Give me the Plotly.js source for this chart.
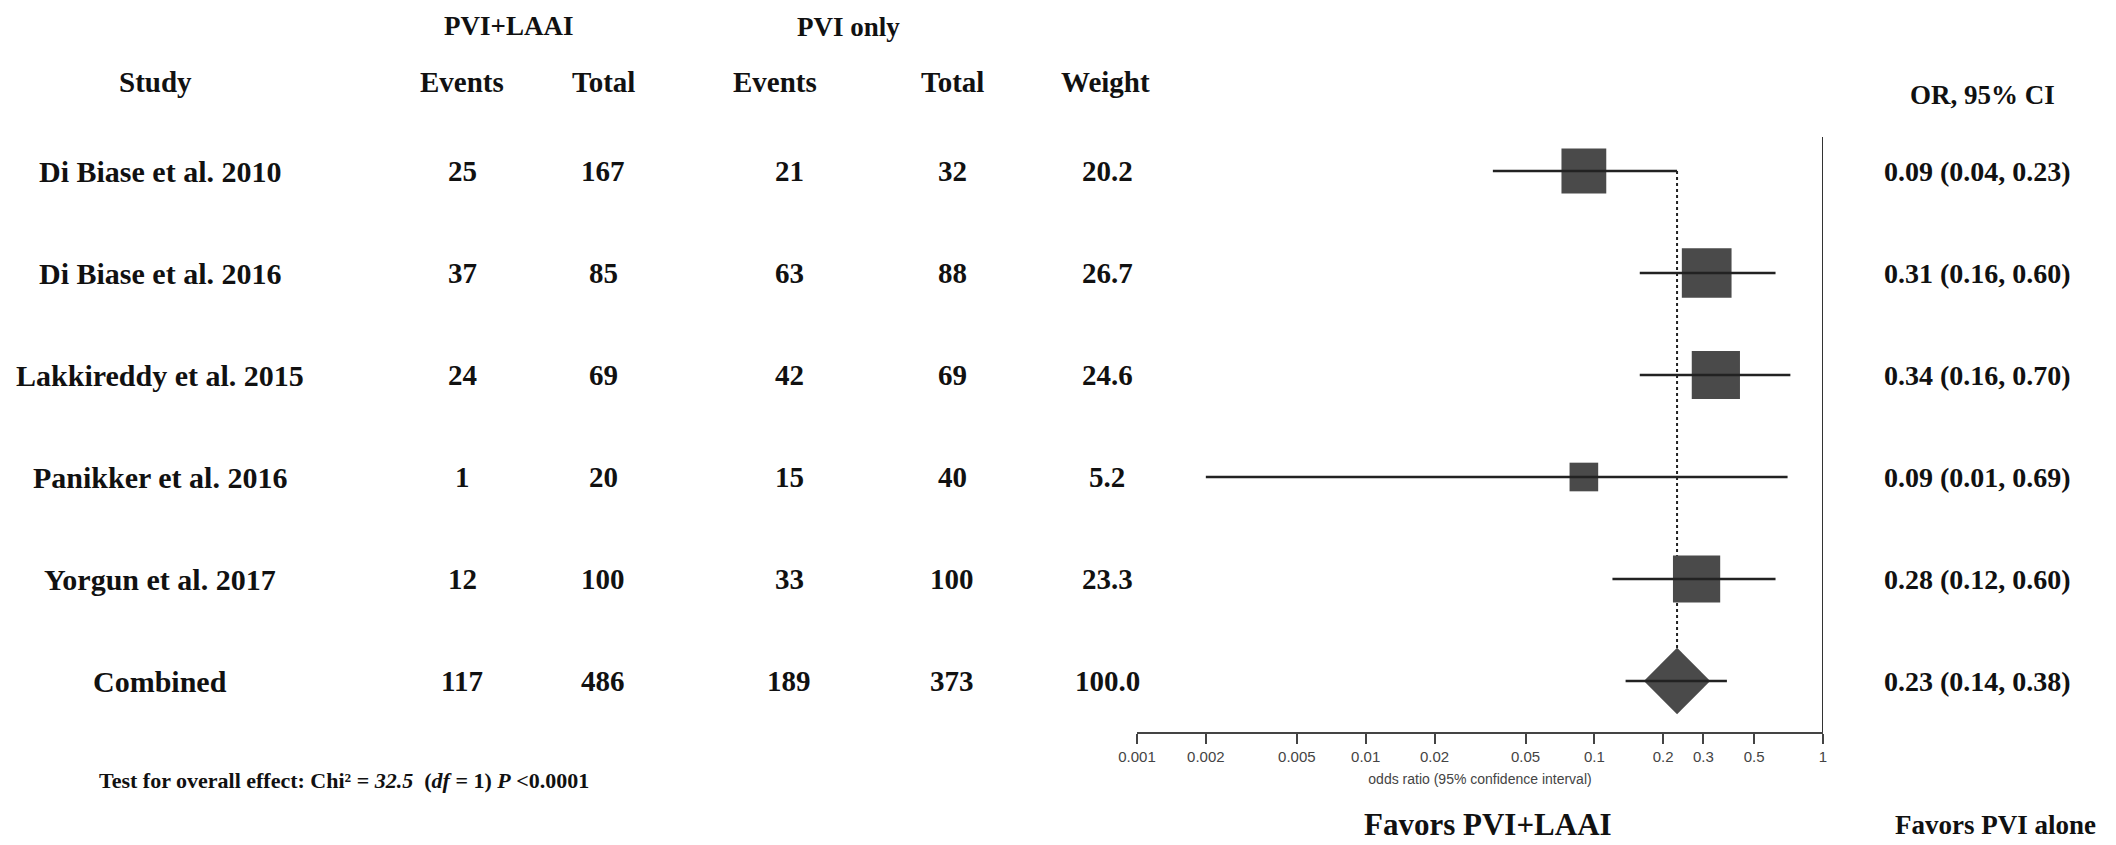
<!DOCTYPE html>
<html><head><meta charset="utf-8">
<script src="https://cdn.plot.ly/plotly-3.0.1.min.js"></script>
<style>html,body{margin:0;padding:0;background:#fff}</style>
</head><body><div id="chart" style="width:2116px;height:845px"></div>
<script>
// ---- data ----
const studies = ["Di Biase et al. 2010","Di Biase et al. 2016","Lakkireddy et al. 2015","Panikker et al. 2016","Yorgun et al. 2017","Combined"];
const laaiEvents = ["25","37","24","1","12","117"];
const laaiTotal  = ["167","85","69","20","100","486"];
const pviEvents  = ["21","63","42","15","33","189"];
const pviTotal   = ["32","88","69","40","100","373"];
const weights    = [20.2, 26.7, 24.6, 5.2, 23.3, 100.0];
const oddsRatio  = [0.09, 0.31, 0.34, 0.09, 0.28, 0.23];
const ciLower    = [0.036, 0.158, 0.158, 0.002, 0.12, 0.137];   // whisker ends as drawn
const ciUpper    = [0.23, 0.62, 0.72, 0.70, 0.62, 0.38];
const ciLabels   = ["0.09 (0.04, 0.23)","0.31 (0.16, 0.60)","0.34 (0.16, 0.70)","0.09 (0.01, 0.69)","0.28 (0.12, 0.60)","0.23 (0.14, 0.38)"];
const tickVals   = [0.001,0.002,0.005,0.01,0.02,0.05,0.1,0.2,0.3,0.5,1];
const tickLabels = ["0.001","0.002","0.005","0.01","0.02","0.05","0.1","0.2","0.3","0.5","1"];

// ---- layout geometry ----
const W = 2116, H = 845;
const L = 1137, R = 2116 - 1823, T = 120, B = 845 - 732;
const PW = W - L - R, PH = H - T - B;
const px = x => (x - L) / PW;          // pixel -> paper x
const py = y => (H - B - y) / PH;      // pixel -> paper y
const serif = "Liberation Serif, Times New Roman, serif";
const sans = "Liberation Sans, Arial, sans-serif";
const ink = "#111";
const markFill = "#4a4a4a";

const nS = studies.length - 1;
const rows = studies.map((_, i) => i);

const traces = [];
// dotted reference line at combined OR
traces.push({x:[oddsRatio[nS], oddsRatio[nS]], y:[0, nS], mode:"lines",
  line:{color:"#222", width:2, dash:"dot"}, hoverinfo:"skip", showlegend:false});
// study squares
traces.push({x:oddsRatio.slice(0,nS), y:rows.slice(0,nS), mode:"markers",
  marker:{symbol:"square", color:markFill, opacity:1, size:weights.slice(0,nS).map(w => 12 + 7.3*Math.sqrt(w)), line:{width:0}},
  hoverinfo:"skip", showlegend:false});
// combined diamond
traces.push({x:[oddsRatio[nS]], y:[nS], mode:"markers",
  marker:{symbol:"diamond", color:markFill, opacity:1, size:51, line:{width:0}}, hoverinfo:"skip", showlegend:false});
// whiskers
const wx = [], wy = [];
rows.forEach(i => { wx.push(ciLower[i], ciUpper[i], null); wy.push(i, i, null); });
traces.push({x:wx, y:wy, mode:"lines", line:{color:"#222", width:2.6}, hoverinfo:"skip", showlegend:false, connectgaps:false});

// ---- annotations ----
const ann = [];
function A(text, x, y, yref, size, extra, family) {
  ann.push(Object.assign({text:text, x:px(x), xref:"paper", y:y, yref:yref, showarrow:false,
    xanchor:"center", yanchor:"middle",
    font:{family:family || serif, size:size, color:ink, weight:700}}, extra || {}));
}
// group headers
A("PVI+LAAI", 508, py(26), "paper", 27);
A("PVI only", 848, py(27), "paper", 27);
// column headers
const hy = py(82);
A("Study", 155, hy, "paper", 29);
A("Events", 462, hy, "paper", 29);
A("Total", 603, hy, "paper", 29);
A("Events", 775, hy, "paper", 29);
A("Total", 952, hy, "paper", 29);
A("Weight", 1105, hy, "paper", 29);
A("OR, 95% CI", 1982, py(95), "paper", 27);
// rows
rows.forEach(i => {
  A(studies[i], 160, i, "y", 30);
  A(laaiEvents[i], 462, i, "y", 29);
  A(laaiTotal[i], 603, i, "y", 29);
  A(pviEvents[i], 789, i, "y", 29);
  A(pviTotal[i], 952, i, "y", 29);
  A(weights[i].toFixed(1), 1107, i, "y", 29);
  A(ciLabels[i], 1977, i, "y", 28);
});
A("Test for overall effect: Chi\u00b2 = <i>32.5</i>  (<i>df</i> = 1) <i>P</i> <0.0001", 344, py(780), "paper", 22);
A("Favors PVI+LAAI", 1488, py(825), "paper", 31);
A("Favors PVI alone", 1995, py(825), "paper", 27);

const layout = {
  width:W, height:H, autosize:false,
  margin:{l:L, r:R, t:T, b:B, pad:0},
  paper_bgcolor:"#fff", plot_bgcolor:"#fff",
  showlegend:false,
  xaxis:{type:"log", range:[-3,0], showline:true, linecolor:"#444", linewidth:2,
    ticks:"outside", ticklen:10, tickwidth:2, tickcolor:"#444",
    tickmode:"array", tickvals:tickVals, ticktext:tickLabels,
    tickfont:{family:sans, size:15, color:"#444"},
    showgrid:false, zeroline:false, fixedrange:true,
    title:{text:"odds ratio (95% confidence interval)", font:{family:sans, size:14, color:"#444"}, standoff:10}},
  yaxis:{visible:false, range:[nS+0.5, -0.5], fixedrange:true},
  shapes:[{type:"line", xref:"x", x0:1, x1:1, yref:"paper", y0:0, y1:py(137),
    line:{color:"#333", width:2}}],
  annotations:ann
};
Plotly.newPlot("chart", traces, layout, {displayModeBar:false, staticPlot:true});
</script></body></html>
